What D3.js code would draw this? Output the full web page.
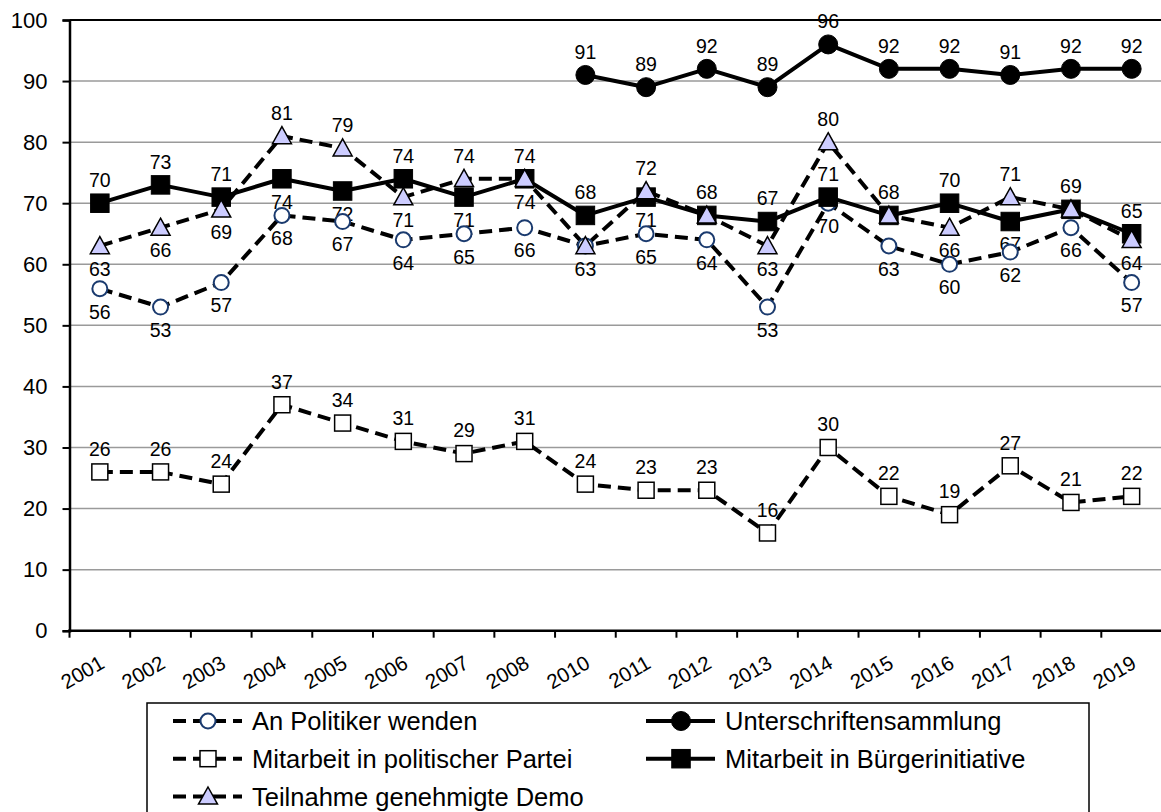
<!DOCTYPE html>
<html>
<head>
<meta charset="utf-8">
<script src="https://cdn.jsdelivr.net/npm/d3@7"></script>
<style>
  html, body { margin: 0; padding: 0; background: #fff; }
  svg { display: block; font-family: "Liberation Sans", Arial, sans-serif; }
</style>
</head>
<body>
<svg id="chart" width="1161" height="812"></svg>
<script>
// ---- data ----
const years = ["2001","2002","2003","2004","2005","2006","2007","2008","2010","2011","2012","2013","2014","2015","2016","2017","2018","2019"];
const politiker = [56,53,57,68,67,64,65,66,63,65,64,53,70,63,60,62,66,57];
const partei = [26,26,24,37,34,31,29,31,24,23,23,16,30,22,19,27,21,22];
const demo = [63,66,69,81,79,71,74,74,63,72,68,63,80,68,66,71,69,64];
const buerger = [70,73,71,74,72,74,71,74,68,71,68,67,71,68,70,67,69,65];
const unterschriften = [null,null,null,null,null,null,null,null,91,89,92,89,96,92,92,91,92,92];
const yTicks = [0,10,20,30,40,50,60,70,80,90,100];

// label placement per point: a = above, b = below
const posPolitiker = Array(18).fill("b");
const posPartei = Array(18).fill("a");
const posUnterschriften = Array(18).fill("a");
const posBuerger = ["a","a","a","b","b","a","b","a","a","b","a","a","a","a","a","b","a","a"];
const posDemo = ["b","b","b","a","a","b","a","b","b","a","a","b","a","a","b","a","a","b"];

const seriesNames = ["An Politiker wenden","Unterschriftensammlung","Mitarbeit in politischer Partei","Mitarbeit in Bürgerinitiative","Teilnahme genehmigte Demo"];

// ---- layout ----
const svg = d3.select("#chart");
const x = d3.scaleBand().domain(years).range([69.5, 1162]).padding(0);
const y = d3.scaleLinear().domain([0,100]).range([630.7, 20]);
const bw = x.bandwidth();
const cx = d => x(d) + bw/2;

// gridlines
svg.append("g").selectAll("line").data(yTicks.filter(v => v > 0)).join("line")
  .attr("x1", 69.5).attr("x2", 1161)
  .attr("y1", d => y(d)).attr("y2", d => y(d))
  .attr("stroke", d => d === 100 ? "#000" : "#9a9a9a")
  .attr("stroke-width", d => d === 100 ? 2 : 1.5);

// y axis
const yAxis = svg.append("g").attr("transform", "translate(69.5,0)")
  .call(d3.axisLeft(y).tickValues(yTicks).tickSize(7).tickPadding(15).tickFormat(d3.format("d")));
yAxis.select(".domain").attr("stroke", "#000").attr("stroke-width", 2.5);
yAxis.selectAll(".tick line").attr("stroke", "#000").attr("stroke-width", 2);
yAxis.selectAll(".tick text").attr("font-size", 22).attr("fill", "#000")
  .attr("font-family", "'Liberation Sans', Arial, sans-serif");

// x axis
svg.append("line").attr("x1", 68).attr("x2", 1161).attr("y1", y(0)).attr("y2", y(0))
  .attr("stroke", "#000").attr("stroke-width", 2.5);
svg.append("g").selectAll("line").data(years).join("line")
  .attr("x1", d => x(d)).attr("x2", d => x(d))
  .attr("y1", y(0)).attr("y2", y(0) + 7)
  .attr("stroke", "#000").attr("stroke-width", 2);
svg.append("g").selectAll("text").data(years).join("text")
  .attr("transform", d => `translate(${cx(d) + 6},667) rotate(-30)`)
  .attr("text-anchor", "end").attr("font-size", 20.5).attr("fill", "#000")
  .text(d => d);

// series definitions
const series = [
  { vals: politiker, pos: posPolitiker, dash: "13,7", marker: "circle", r: 7.5, fill: "#fff", stroke: "#1a3a6e", sw: 2 },
  { vals: unterschriften, pos: posUnterschriften, dash: null, marker: "circle", r: 9.5, fill: "#000", stroke: "#000", sw: 1 },
  { vals: partei, pos: posPartei, dash: "13,7", marker: "square", r: 8, fill: "#fff", stroke: "#000", sw: 1.5 },
  { vals: buerger, pos: posBuerger, dash: null, marker: "square", r: 9.25, fill: "#000", stroke: "#000", sw: 1 },
  { vals: demo, pos: posDemo, dash: "13,7", marker: "triangle", r: 9.5, fill: "#ccccff", stroke: "#000", sw: 1.5 }
];

const line = d3.line().defined(d => d.v !== null).x(d => cx(d.k)).y(d => y(d.v));

function drawMarker(g, s, px, py) {
  if (s.marker === "circle") {
    g.append("circle").attr("cx", px).attr("cy", py).attr("r", s.r)
      .attr("fill", s.fill).attr("stroke", s.stroke).attr("stroke-width", s.sw);
  } else if (s.marker === "square") {
    g.append("rect").attr("x", px - s.r).attr("y", py - s.r).attr("width", 2*s.r).attr("height", 2*s.r)
      .attr("fill", s.fill).attr("stroke", s.stroke).attr("stroke-width", s.sw);
  } else {
    const h = s.r * 1.8;
    g.append("path")
      .attr("d", `M${px},${py - h*0.55} L${px + s.r},${py + h*0.45} L${px - s.r},${py + h*0.45} Z`)
      .attr("fill", s.fill).attr("stroke", s.stroke).attr("stroke-width", s.sw);
  }
}

// lines
const gLines = svg.append("g");
series.forEach(s => {
  const pts = years.map((k,i) => ({k, v: s.vals[i]}));
  gLines.append("path").datum(pts).attr("d", line)
    .attr("fill", "none").attr("stroke", "#000").attr("stroke-width", 4)
    .attr("stroke-dasharray", s.dash).attr("stroke-linejoin", "round");
});

// labels (identical labels at identical spots drawn once)
const gLabels = svg.append("g");
const seen = new Set();
series.forEach(s => {
  years.forEach((k,i) => {
    const v = s.vals[i];
    if (v === null) return;
    const off = s.pos[i] === "a" ? -23 : 23;
    const key = k + "|" + v + "|" + s.pos[i];
    if (seen.has(key)) return;
    seen.add(key);
    gLabels.append("text").attr("x", cx(k)).attr("y", y(v) + off)
      .attr("dy", "0.35em").attr("text-anchor", "middle")
      .attr("font-size", 19.5).attr("fill", "#000").text(v);
  });
});

// markers
const gMarkers = svg.append("g");
series.forEach(s => {
  years.forEach((k,i) => {
    const v = s.vals[i];
    if (v === null) return;
    drawMarker(gMarkers, s, cx(k), y(v));
  });
});

// legend
const lg = svg.append("g");
lg.append("rect").attr("x", 147).attr("y", 703).attr("width", 942).attr("height", 140)
  .attr("fill", "#fff").attr("stroke", "#000").attr("stroke-width", 1.5);
const legendItems = [
  { s: series[0], name: seriesNames[0], col: 0, row: 0 },
  { s: series[1], name: seriesNames[1], col: 1, row: 0 },
  { s: series[2], name: seriesNames[2], col: 0, row: 1 },
  { s: series[3], name: seriesNames[3], col: 1, row: 1 },
  { s: series[4], name: seriesNames[4], col: 0, row: 2 }
];
const colX = [173, 646];
legendItems.forEach(it => {
  const x0 = colX[it.col];
  const yy = 721 + it.row * 37.7;
  lg.append("line").attr("x1", x0).attr("x2", x0 + 69).attr("y1", yy).attr("y2", yy)
    .attr("stroke", "#000").attr("stroke-width", 4).attr("stroke-dasharray", it.s.dash);
  drawMarker(lg, it.s, x0 + 35, yy);
  lg.append("text").attr("x", x0 + 79).attr("y", yy).attr("dy", "0.36em")
    .attr("font-size", 25.5).attr("fill", "#000").text(it.name);
});
</script>
</body>
</html>
